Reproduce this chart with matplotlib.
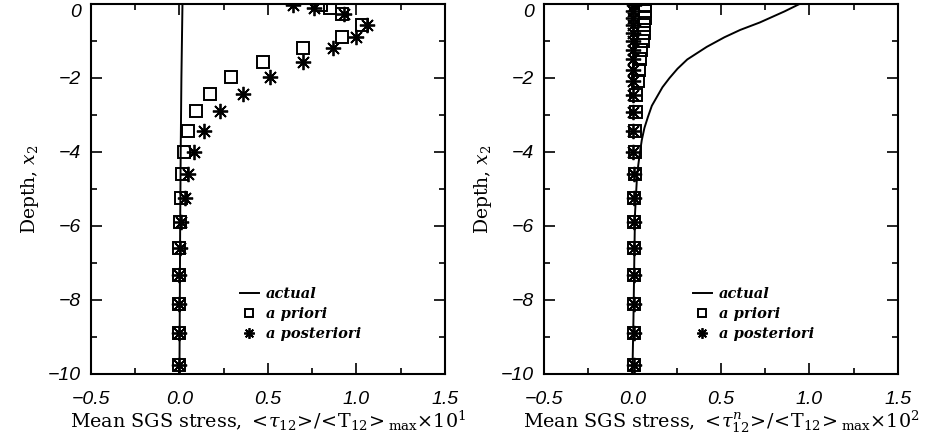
import numpy as np
import matplotlib
matplotlib.use("Agg")
import matplotlib.pyplot as plt
from matplotlib.ticker import MultipleLocator

plt.rcParams['mathtext.fontset'] = 'dejavuserif'

# ---- left panel: tau_12 (x10^1) ----
z_left = [-9.75, -8.9, -8.1, -7.33, -6.6, -5.9, -5.25, -4.6, -4.0, -3.43,
          -2.9, -2.42, -1.97, -1.57, -1.2, -0.9, -0.58, -0.26, -0.1, -0.03]
prior_left = [0.0, 0.0, 0.0, 0.0, 0.0, 0.002, 0.006, 0.013, 0.025, 0.05,
              0.095, 0.17, 0.29, 0.47, 0.70, 0.92, 1.03, 0.92, 0.85, 0.80]
post_left = [0.0, 0.0, 0.0, 0.0, 0.003, 0.01, 0.03, 0.05, 0.085, 0.136,
             0.23, 0.36, 0.51, 0.70, 0.87, 1.0, 1.06, 0.93, 0.76, 0.64]
z_act_left = [-10.0, -8.0, -6.0, -4.0, -2.0, -1.0, 0.0]
act_left = [0.0, 0.002, 0.004, 0.007, 0.011, 0.014, 0.017]

# ---- right panel: tau^n_12 (x10^2) ----
z_right = [-9.75, -8.9, -8.1, -7.33, -6.6, -5.9, -5.25, -4.6, -4.0, -3.43,
           -2.92, -2.45, -2.08, -1.78, -1.5, -1.24, -1.0, -0.78, -0.57, -0.38,
           -0.2, -0.03]
prior_right = [0.01, 0.01, 0.01, 0.01, 0.01, 0.01, 0.01, 0.012, 0.013, 0.015,
               0.018, 0.022, 0.03, 0.038, 0.045, 0.05, 0.06, 0.065, 0.068, 0.07,
               0.07, 0.07]
post_right = [0.01, 0.01, 0.01, 0.01, 0.01, 0.008, 0.008, 0.008, 0.006, 0.005,
              0.005, 0.004, 0.004, 0.005, 0.006, 0.005, 0.004, 0.005, 0.006, 0.005,
              0.006, 0.008]
z_act_right = [-10.0, -8.5, -7.5, -6.5, -5.65, -5.2, -4.76, -4.4, -4.03, -3.68,
               -3.35, -3.05, -2.75, -2.5, -2.25, -2.0, -1.75, -1.5, -1.16, -0.9,
               -0.7, -0.5, -0.35, -0.2, 0.0]
act_right = [0.0, 0.006, 0.009, 0.012, 0.015, 0.02, 0.025, 0.032, 0.042, 0.053,
             0.068, 0.088, 0.11, 0.14, 0.17, 0.21, 0.255, 0.31, 0.42, 0.52,
             0.61, 0.72, 0.79, 0.86, 0.945]

y_ticks = [-10, -8, -6, -4, -2, 0]

xlab_left = (r"Mean SGS stress, $<\!\tau_{12}\!>\!/\!<\!\mathrm{T}_{12}\!>_{\mathrm{max}}$"
             r"$\times\mathit{10}^{1}$")
xlab_right = (r"Mean SGS stress, $<\!\tau^{n}_{12}\!>\!/\!<\!\mathrm{T}_{12}\!>_{\mathrm{max}}$"
              r"$\times\mathit{10}^{2}$")

fig = plt.figure(figsize=(9.46, 4.43), dpi=100)
ax1 = fig.add_axes([0.0962, 0.156, 0.374, 0.835])
ax2 = fig.add_axes([0.575, 0.156, 0.374, 0.835])

star = (8, 2, 0)
panels = [
    (ax1, z_left, prior_left, post_left, z_act_left, act_left, xlab_left, 0.40),
    (ax2, z_right, prior_right, post_right, z_act_right, act_right, xlab_right, 0.40),
]
for ax, z, pr, po, za, ac, xl, lx in panels:
    ax.plot(ac, za, '-', color='black', lw=1.4, label='actual')
    ax.plot(pr, z, 's', ms=9, mfc='none', mec='black', mew=1.4, label='a priori')
    ax.plot(po, z, ls='none', marker=star, ms=11, mec='black', mew=1.3,
            label='a posteriori')
    ax.set_xlim(-0.5, 1.5)
    ax.set_ylim(-10, 0)
    ax.xaxis.set_major_locator(MultipleLocator(0.5))
    ax.xaxis.set_minor_locator(MultipleLocator(0.25))
    ax.set_yticks(y_ticks)
    ax.yaxis.set_minor_locator(MultipleLocator(1))
    ax.tick_params(which='both', direction='in', top=True, right=True, width=1.2)
    ax.tick_params(which='major', length=8)
    ax.tick_params(which='minor', length=4)
    ax.tick_params(axis='x', which='major', pad=12)
    ax.tick_params(axis='y', which='major', pad=7)
    for lab in ax.get_xticklabels() + ax.get_yticklabels():
        lab.set_family('Liberation Sans')
        lab.set_style('italic')
        lab.set_size(14)
    # top "0" label sits just below the frame edge
    ax.get_yticklabels()[-1].set_verticalalignment('top')
    for s in ax.spines.values():
        s.set_linewidth(1.5)
    ax.set_xlabel(xl, family='DejaVu Serif', size=13.8, labelpad=1)
    ax.set_ylabel(r"Depth, $x_{2}$", family='DejaVu Serif', size=13.5, labelpad=5)
    ax.legend(loc='upper left', bbox_to_anchor=(lx, 0.255), frameon=False,
              handlelength=1.3, handletextpad=0.5, markerscale=0.7,
              labelspacing=0.42, borderpad=0,
              prop={'family': 'DejaVu Serif', 'style': 'italic',
                    'weight': 'bold', 'size': 10.5})

fig.savefig('out.png', dpi=100)
